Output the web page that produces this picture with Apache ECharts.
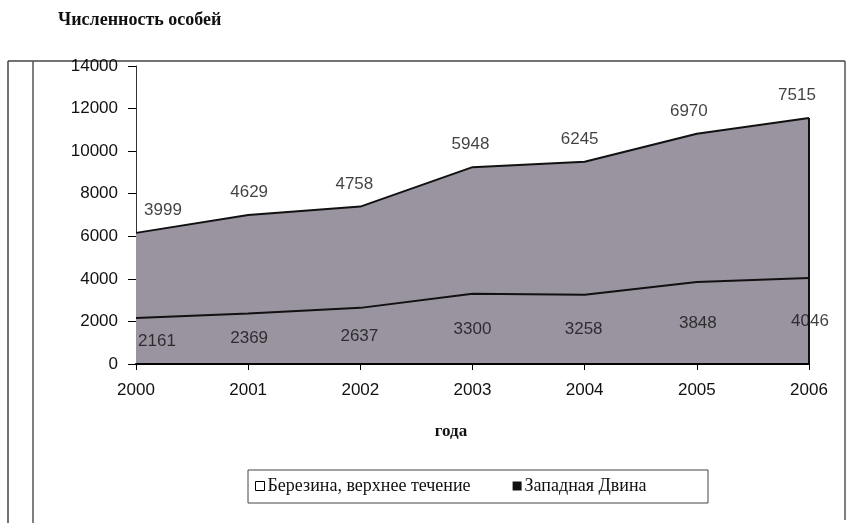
<!DOCTYPE html>
<html><head><meta charset="utf-8">
<script src="https://cdn.jsdelivr.net/npm/echarts@6/dist/echarts.min.js"></script>
<style>html,body{margin:0;padding:0;background:#fff}#c{width:856px;height:523px}</style>
</head><body><div id="c"></div>
<script>
const years = ['2000','2001','2002','2003','2004','2005','2006'];
const zapDvina = [2161, 2369, 2637, 3300, 3258, 3848, 4046];
const berezina = [3999, 4629, 4758, 5948, 6245, 6970, 7515];
const yTicks = {min: 0, max: 14000, interval: 2000};
const seriesNames = ['Березина, верхнее течение', 'Западная Двина'];

// label nudges (layout only)
const topLabelDx = [27, 1, -6, -2, -5, -8, -12];
const botLabelDx = [21, 1, -1, 0, -1, 1, 1];

const fill = '#9a93a0';
const numFont = {fontFamily: 'Liberation Sans', fontSize: 17, color: '#111'};
const chart = echarts.init(document.getElementById('c'));
const totals = years.map((y, i) => zapDvina[i] + berezina[i]);

chart.setOption({
  animation: false,
  title: {
    text: 'Численность особей', left: 58, top: 11, padding: 0,
    textStyle: {fontFamily: 'Liberation Serif', fontWeight: 'bold', fontSize: 18, color: '#111'}
  },
  grid: {left: 136, right: 47, top: 66, bottom: 159},
  xAxis: {
    type: 'category', data: years, boundaryGap: false,
    axisLine: {lineStyle: {color: '#000', width: 2}},
    axisTick: {show: true, length: 6, lineStyle: {color: '#000'}},
    axisLabel: Object.assign({margin: 18}, numFont),
    splitLine: {show: false}, z: 10
  },
  yAxis: {
    type: 'value', min: yTicks.min, max: yTicks.max, interval: yTicks.interval,
    axisLine: {show: true, lineStyle: {color: '#333', width: 1}},
    axisTick: {show: true, length: 8, lineStyle: {color: '#000'}},
    axisLabel: Object.assign({margin: 18, formatter: v => String(v)}, numFont),
    splitLine: {show: false}
  },
  legend: {
    left: 255, top: 477, padding: 0, itemWidth: 9, itemHeight: 9, itemGap: 42,
    textStyle: {fontFamily: 'Liberation Serif', fontSize: 18, color: '#111', padding: [0,0,0,-2]},
    data: [
      {name: seriesNames[0], icon: 'rect', itemStyle: {color: '#fff', borderColor: '#000', borderWidth: 1}},
      {name: seriesNames[1], icon: 'rect', itemStyle: {color: '#111', borderWidth: 0}}
    ]
  },
  graphic: [
    {type: 'line', shape: {x1: 8, y1: 61, x2: 845, y2: 61}, style: {stroke: '#444', lineWidth: 1.5}},
    {type: 'line', shape: {x1: 8, y1: 61, x2: 8, y2: 523}, style: {stroke: '#444', lineWidth: 1.5}},
    {type: 'line', shape: {x1: 33, y1: 61, x2: 33, y2: 523}, style: {stroke: '#555', lineWidth: 1.5}},
    {type: 'line', shape: {x1: 845, y1: 61, x2: 845, y2: 520}, style: {stroke: '#555', lineWidth: 1.5}},
    {type: 'rect', shape: {x: 248, y: 470, width: 460, height: 33}, style: {fill: 'none', stroke: '#444', lineWidth: 1}},
    {type: 'text', x: 451, y: 432, style: {text: 'года', fontFamily: 'Liberation Serif', fontWeight: 'bold', fontSize: 17, fill: '#111', align: 'center', verticalAlign: 'middle'}}
  ],
  series: [
    {
      name: seriesNames[1], type: 'line', stack: 'total', data: zapDvina,
      symbol: 'none', lineStyle: {color: '#111', width: 2},
      areaStyle: {color: fill, opacity: 1}, itemStyle: {color: '#111'}, z: 4
    },
    {
      name: seriesNames[0], type: 'line', stack: 'total', data: berezina,
      symbol: 'none', lineStyle: {color: '#111', width: 2},
      areaStyle: {color: fill, opacity: 1}, itemStyle: {color: '#fff'},
      markLine: {
        symbol: 'none', silent: true, label: {show: false},
        lineStyle: {color: '#111', width: 2, type: 'solid'},
        data: [[{coord: [6, 0]}, {coord: [6, totals[6]]}]]
      },
      z: 3
    },
    {
      name: 'topLabels', type: 'scatter', symbolSize: 0, silent: true,
      data: berezina.map((v, i) => ({
        value: [i, totals[i]],
        label: {offset: [topLabelDx[i], 0], formatter: String(v)}
      })),
      label: Object.assign({show: true, position: 'top', distance: 14}, numFont),
      z: 5
    },
    {
      name: 'botLabels', type: 'scatter', symbolSize: 0, silent: true,
      data: zapDvina.map((v, i) => ({
        value: [i, v / 2],
        label: {offset: [botLabelDx[i], 0], formatter: String(v)}
      })),
      label: Object.assign({show: true, position: 'inside'}, numFont),
      z: 5
    }
  ]
});
</script></body></html>
